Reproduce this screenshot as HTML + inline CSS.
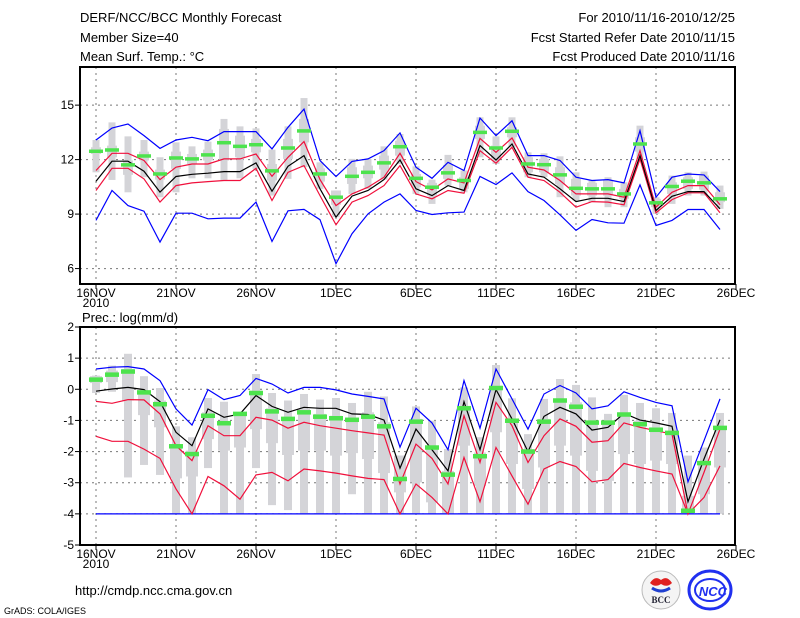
<!DOCTYPE html>
<html><head><meta charset="utf-8"><style>
body{margin:0;background:#fff;}
svg{display:block;font-family:"Liberation Sans",sans-serif;}
</style></head><body>
<svg id="c" width="800" height="618" viewBox="0 0 800 618">
<g font-size="13" fill="#000">
<text x="80" y="22">DERF/NCC/BCC Monthly Forecast</text>
<text x="80" y="42">Member Size=40</text>
<text x="80" y="61">Mean Surf. Temp.: °C</text>
<text x="735" y="22" text-anchor="end">For 2010/11/16-2010/12/25</text>
<text x="735" y="42" text-anchor="end">Fcst Started Refer Date 2010/11/15</text>
<text x="735" y="61" text-anchor="end">Fcst Produced Date 2010/11/16</text>
<text x="82" y="322">Prec.: log(mm/d)</text>
<text x="75" y="595">http://cmdp.ncc.cma.gov.cn</text>
<text x="4" y="614" font-size="9">GrADS: COLA/IGES</text>
</g>
<g>
<circle cx="661" cy="590" r="19" fill="#f4f4f4" stroke="#bbb"/>
<path d="M650 583 q5 -8 11 -3 q6 -5 11 3 q-5 5 -11 1 q-6 4 -11 -1z" fill="#e02020"/>
<path d="M652 588 q9 6 18 0" stroke="#2040d0" stroke-width="3" fill="none"/>
<text x="661" y="603" font-size="9" font-family="Liberation Serif,serif" font-weight="bold" fill="#223" text-anchor="middle">BCC</text>
</g>
<g>
<ellipse cx="710" cy="590" rx="21" ry="19" fill="none" stroke="#2030f0" stroke-width="3"/>
<ellipse cx="710" cy="590" rx="15" ry="11" fill="none" stroke="#2030f0" stroke-width="2"/>
<text x="713" y="596" font-size="13" font-style="italic" font-weight="bold" fill="#2030f0" text-anchor="middle">NCC</text>
</g>
<g id="plots"></g>
</svg>
<script>
const xTickLabels = ["16NOV","21NOV","26NOV","1DEC","6DEC","11DEC","16DEC","21DEC","26DEC"];
const tTicks = [6,9,12,15];
const pTicks = [2,1,0,-1,-2,-3,-4,-5];
const tBlueHi = [13.08,13.74,13.96,13.32,12.62,13.08,13.23,13.04,13.54,13.54,13.54,12.59,13.78,14.78,11.95,11.07,11.9,12.04,12.49,13.47,11.58,10.97,11.85,11.40,14.29,13.32,14.14,12.22,12.22,11.95,11.03,10.85,10.90,10.72,13.59,9.93,11.03,11.21,11.16,10.24];
const tBlueLo = [8.65,10.3,9.47,9.16,7.46,9.05,9.05,8.74,8.78,8.78,9.66,7.49,9.18,9.26,8.69,6.27,7.92,9.01,9.66,10.11,9.20,8.98,9.07,9.11,11.07,10.63,11.27,10.24,9.75,8.96,8.10,8.70,8.52,8.50,10.61,8.37,8.65,9.25,9.25,8.15];
const tRedHi = [11.4,12.35,12.35,11.95,10.9,11.58,11.76,11.76,12.04,12.04,12.31,11.08,12.13,12.99,10.9,9.47,10.11,10.48,11.03,12.35,10.79,10.33,10.94,10.72,13.17,12.40,13.19,11.58,11.43,10.85,10.11,10.11,10.11,9.93,12.49,9.38,10.20,10.57,10.57,9.51];
const tBlack = [10.81,11.91,11.91,11.36,10.21,11.07,11.19,11.25,11.34,11.34,11.82,10.26,11.63,12.22,10.39,8.83,9.99,10.3,10.9,11.98,10.39,10.02,10.57,10.30,12.77,11.98,12.86,11.21,11.03,10.39,9.69,9.87,9.87,9.69,12.22,9.20,9.98,10.24,10.24,9.29];
const tRedLo = [10.3,11.52,11.52,10.94,9.66,10.57,10.72,10.79,10.85,10.85,11.52,9.75,11.3,11.67,10.02,8.41,9.66,10.02,10.57,11.67,10.11,9.84,10.30,10.15,12.49,11.80,12.68,11.03,10.85,10.20,9.38,9.69,9.66,9.51,12.04,9.07,9.80,10.17,10.17,9.07];
const tGreen = [12.46,12.53,11.71,12.2,11.21,12.09,12.04,12.26,12.93,12.73,12.82,11.38,12.64,13.58,11.21,9.93,11.08,11.3,11.82,12.71,10.97,10.48,11.27,10.85,13.50,12.64,13.56,11.76,11.72,11.16,10.42,10.39,10.39,10.11,12.86,9.62,10.52,10.81,10.72,9.84];
const tWhiskHi = [13.08,14.05,13.28,13.08,12.13,12.95,12.73,12.99,14.24,13.83,13.72,12.55,13.83,15.39,11.85,10.30,12.04,12.04,12.73,13.41,11.63,10.90,12.26,11.40,14.33,13.28,14.33,12.40,12.35,12.18,11.30,10.85,11.03,10.75,13.87,9.93,11.12,11.30,11.34,10.57];
const tWhiskLo = [11.30,10.88,10.20,11.03,9.93,10.20,10.97,10.97,10.85,10.97,11.49,10.02,10.94,11.58,10.39,8.83,10.11,10.39,10.90,11.76,10.11,9.56,10.57,10.20,12.13,11.76,12.68,11.03,11.03,9.93,9.75,9.66,9.38,9.38,12.04,9.01,9.56,10.02,10.02,9.29];
const tBoxHi = [12.68,12.77,11.95,12.44,11.45,12.44,12.31,12.55,13.69,13.32,13.14,11.76,13.14,14.24,11.52,10.30,11.58,11.67,12.22,13.04,11.21,10.72,11.71,11.03,13.87,12.77,13.78,12.13,12.04,11.58,10.94,10.72,10.85,10.39,13.23,9.84,10.75,11.03,11.12,10.20];
const tBoxLo = [12.31,12.13,11.16,11.95,10.90,11.49,11.76,11.95,11.95,12.13,12.40,10.85,12.04,12.95,10.79,9.51,10.66,10.97,11.45,12.22,10.48,10.02,10.94,10.39,13.14,12.04,13.23,11.30,11.30,10.66,10.02,10.02,10.02,9.84,12.44,9.38,10.11,10.39,10.35,9.66];
const pBlueHi = [0.65,0.71,0.73,0.65,0.28,-0.63,-1.15,-0.01,-0.33,-0.20,0.35,0.17,-0.12,0.06,0.06,-0.02,-0.15,-0.23,-0.31,-1.86,-0.61,-1.08,-1.94,0.28,-1.25,0.65,-0.31,-1.28,-0.15,0.12,-0.12,-0.63,-0.53,-0.08,-0.26,-0.42,-0.53,-2.97,-1.65,-0.31];
const pBlueLo = [-4,-4,-4,-4,-4,-4,-4,-4,-4,-4,-4,-4,-4,-4,-4,-4,-4,-4,-4,-4,-4,-4,-4,-4,-4,-4,-4,-4,-4,-4,-4,-4,-4,-4,-4,-4,-4,-4,-4,-4];
const pBlack = [-0.06,0.01,0.06,-0.01,-0.40,-1.38,-1.81,-0.63,-0.90,-0.79,-0.20,-0.55,-0.74,-0.58,-0.61,-0.61,-0.79,-0.81,-0.99,-2.53,-1.28,-1.94,-2.62,-0.40,-1.94,-0.01,-0.95,-2.00,-0.87,-0.58,-0.79,-1.31,-1.22,-0.77,-0.99,-1.08,-1.19,-3.61,-2.24,-0.98];
const pRedHi = [-0.39,-0.45,-0.33,-0.34,-0.79,-1.81,-2.29,-1.17,-1.49,-1.49,-0.90,-0.99,-1.25,-1.06,-1.17,-1.25,-1.33,-1.40,-1.47,-3.04,-1.76,-2.22,-3.04,-0.85,-2.35,-0.42,-1.17,-2.35,-1.49,-0.95,-1.19,-1.70,-1.65,-1.08,-1.22,-1.33,-1.44,-4.0,-2.67,-1.28];
const pRedLo = [-1.51,-1.67,-1.67,-1.92,-2.22,-3.20,-4.0,-2.80,-3.10,-3.53,-2.75,-2.67,-2.94,-2.56,-2.62,-2.69,-2.78,-2.86,-2.90,-4.0,-3.04,-3.47,-4.0,-2.19,-3.61,-1.87,-2.78,-3.69,-2.56,-2.32,-2.48,-2.97,-2.90,-2.38,-2.51,-2.62,-2.72,-4.0,-3.47,-2.46];
const pGreen = [0.31,0.47,0.57,-0.10,-0.48,-1.83,-2.08,-0.85,-1.09,-0.79,-0.12,-0.71,-0.95,-0.74,-0.88,-0.93,-0.98,-0.88,-1.19,-2.88,-1.04,-1.87,-2.74,-0.61,-2.15,0.04,-1.01,-2.00,-1.04,-0.36,-0.56,-1.07,-1.07,-0.81,-1.12,-1.30,-1.40,-3.90,-2.37,-1.24];
const pWhiskHi = [0.44,0.76,1.14,0.42,0.04,-1.19,-1.54,-0.28,-0.40,-0.79,0.49,-0.12,-0.36,-0.15,-0.33,-0.28,-0.44,-0.08,-0.23,-2.13,-0.55,-1.01,-1.92,0.06,-1.54,0.78,-0.29,-1.44,-0.31,0.33,0.14,-0.26,-0.79,-0.18,-0.44,-0.61,-0.76,-2.13,-1.87,-0.76];
const pWhiskLo = [-0.12,-0.08,-2.83,-2.43,-2.75,-4,-4,-2.53,-4,-4,-2.53,-3.72,-3.88,-4,-4,-4,-3.37,-4,-4,-4,-4,-4,-4,-4,-4,-4,-4,-4,-4,-4,-4,-4,-4,-4,-4,-4,-4,-4,-4,-4];
const pBoxHi = [0.42,0.60,0.65,-0.04,-0.36,-1.79,-1.97,-0.74,-1.04,-0.79,-0.04,-0.61,-0.90,-0.63,-0.79,-0.85,-0.93,-0.74,-1.06,-2.13,-0.95,-1.87,-2.62,-0.53,-2.03,0.12,-0.95,-1.92,-0.95,-0.31,-0.42,-1.01,-1.01,-0.74,-1.01,-1.22,-1.38,-3.42,-2.35,-1.17];
const pBoxLo = [0.20,0.23,-0.36,-0.83,-1.22,-2.86,-2.80,-1.60,-1.97,-1.87,-1.28,-1.73,-2.11,-1.97,-1.97,-2.13,-2.05,-2.24,-2.69,-3.31,-2.99,-3.63,-4,-1.81,-3.10,-1.38,-2.40,-3.20,-2.51,-1.81,-2.13,-2.62,-2.94,-2.08,-2.40,-2.29,-2.40,-4,-3.37,-2.51];

const NS='http://www.w3.org/2000/svg';
const root=document.getElementById('plots');
function mk(tag,attrs,parent){const e=document.createElementNS(NS,tag);for(const k in attrs)e.setAttribute(k,attrs[k]);(parent||root).appendChild(e);return e;}
const xL=80,xR=735;
function xs(d){return 96+16*d;}

function panel(name,top,bot,vMin,vMax,ticks,S,bw,gh){
  const ys=v=>bot-(v-vMin)/(vMax-vMin)*(bot-top);
  const g=mk('g',{});
  
  
  ticks.forEach(t=>{const y=ys(t);
    if(y>top+1&&y<bot-1){const l=mk('line',{x1:xL,x2:xR,y1:y,y2:y,stroke:'#777','stroke-dasharray':'2,4'},g);
      
      }
    mk('line',{x1:xL-5,x2:xL,y1:y,y2:y,stroke:'#000'},g);
    const tx=mk('text',{x:xL-6,y:y+4,'font-size':12,'text-anchor':'end'},g);tx.textContent=t;
    
    
  });
  xTickLabels.forEach((lab,i)=>{const x=xs(i*5);
    if(x<xR-1){const l=mk('line',{x1:x,x2:x,y1:top,y2:bot,stroke:'#777','stroke-dasharray':'2,4'},g);
      
      }
    mk('line',{x1:x,x2:x,y1:bot,y2:bot+5,stroke:'#000'},g);
    const tx=mk('text',{x:x,y:bot+13,'font-size':12,'text-anchor':'middle'},g);tx.textContent=lab;
    
    
  });
  const yr=mk('text',{x:96,y:bot+23,'font-size':12,'text-anchor':'middle'},g);yr.textContent='2010';
  
  
  S.whHi.forEach((v,d)=>{const x=xs(d);
    const w=mk('rect',{x:x-bw[0]/2,y:ys(v),width:bw[0],height:ys(S.whLo[d])-ys(v),fill:'#d4d4d8'},g);
    
    
    const b=mk('rect',{x:x-bw[1]/2,y:ys(S.bxHi[d]),width:bw[1],height:ys(S.bxLo[d])-ys(S.bxHi[d]),fill:'#d4d4d8'},g);
    
    
  });
  const line=(arr,col,nm)=>{const p=mk('polyline',{points:arr.map((v,d)=>xs(d)+','+ys(v).toFixed(1)).join(' '),fill:'none',stroke:col,'stroke-width':1.2},g);
    
    };
  line(S.bLo,'#0000ff',name+'-blue-low');
  line(S.bHi,'#0000ff',name+'-blue-high');
  line(S.rLo,'#f0103c',name+'-red-low');
  line(S.rHi,'#f0103c',name+'-red-high');
  line(S.k,'#000',name+'-black-mean');
  S.g.forEach((v,d)=>{const r=mk('rect',{x:xs(d)-7,y:ys(v)-gh/2,width:14,height:gh,fill:'#4de34d'},g);
    
    });
  const f=mk('path',{d:`M${xL},${top} H${xR} V${bot} H${xL} Z`,fill:'none',stroke:'#000','stroke-width':2},g);
  
  
}
panel('temp',67,284,5.15,17.1,tTicks,{whHi:tWhiskHi,whLo:tWhiskLo,bxHi:tBoxHi,bxLo:tBoxLo,bHi:tBlueHi,bLo:tBlueLo,rHi:tRedHi,rLo:tRedLo,k:tBlack,g:tGreen},[7,10],3.5);
panel('prec',327,545,-5,2,pTicks,{whHi:pWhiskHi,whLo:pWhiskLo,bxHi:pBoxHi,bxLo:pBoxLo,bHi:pBlueHi,bLo:pBlueLo,rHi:pRedHi,rLo:pRedLo,k:pBlack,g:pGreen},[8,12],4.5);
</script>
</body></html>
